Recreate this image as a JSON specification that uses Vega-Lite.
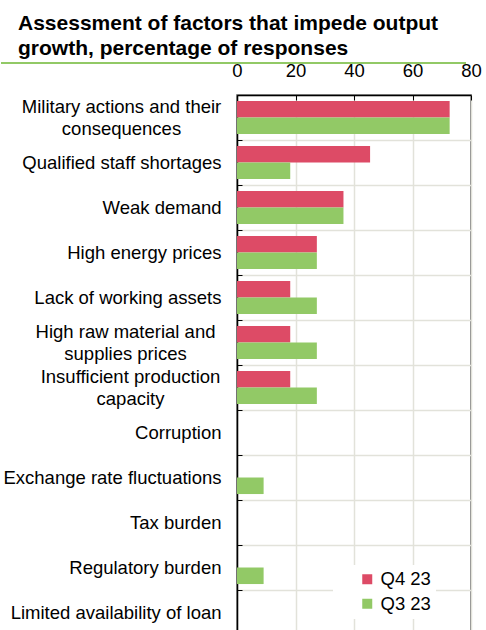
{
  "$schema": "https://vega.github.io/schema/vega-lite/v6.json",
  "width": 234,
  "height": 540,
  "autosize": {"type": "none"},
  "padding": {"left": 237, "top": 95, "right": 15, "bottom": 0},
  "background": "white",
  "title": {
    "text": ["Assessment of factors that impede output", "growth, percentage of responses"],
    "anchor": "start",
    "frame": "group",
    "dx": -219,
    "dy": 2,
    "fontSize": 21,
    "fontWeight": "bold",
    "lineHeight": 25,
    "color": "#000000",
    "font": "Liberation Sans"
  },
  "config": {
    "font": "Liberation Sans",
    "view": {"stroke": "#595959", "strokeWidth": 1.5}
  },
  "data": {
    "values": [
      {"factor": "Military actions and their consequences", "period": "Q4 23", "value": 72.7},
      {"factor": "Military actions and their consequences", "period": "Q3 23", "value": 72.7},
      {"factor": "Qualified staff shortages", "period": "Q4 23", "value": 45.5},
      {"factor": "Qualified staff shortages", "period": "Q3 23", "value": 18.2},
      {"factor": "Weak demand", "period": "Q4 23", "value": 36.4},
      {"factor": "Weak demand", "period": "Q3 23", "value": 36.4},
      {"factor": "High energy prices", "period": "Q4 23", "value": 27.3},
      {"factor": "High energy prices", "period": "Q3 23", "value": 27.3},
      {"factor": "Lack of working assets", "period": "Q4 23", "value": 18.2},
      {"factor": "Lack of working assets", "period": "Q3 23", "value": 27.3},
      {"factor": "High raw material and supplies prices", "period": "Q4 23", "value": 18.2},
      {"factor": "High raw material and supplies prices", "period": "Q3 23", "value": 27.3},
      {"factor": "Insufficient production capacity", "period": "Q4 23", "value": 18.2},
      {"factor": "Insufficient production capacity", "period": "Q3 23", "value": 27.3},
      {"factor": "Corruption", "period": "Q4 23", "value": 0},
      {"factor": "Corruption", "period": "Q3 23", "value": 0},
      {"factor": "Exchange rate fluctuations", "period": "Q4 23", "value": 0},
      {"factor": "Exchange rate fluctuations", "period": "Q3 23", "value": 9.1},
      {"factor": "Tax burden", "period": "Q4 23", "value": 0},
      {"factor": "Tax burden", "period": "Q3 23", "value": 0},
      {"factor": "Regulatory burden", "period": "Q4 23", "value": 0},
      {"factor": "Regulatory burden", "period": "Q3 23", "value": 9.1},
      {"factor": "Limited availability of loan", "period": "Q4 23", "value": 0},
      {"factor": "Limited availability of loan", "period": "Q3 23", "value": 0}
    ]
  },
  "layer": [
    {
      "mark": {"type": "bar"},
      "encoding": {
        "y": {
          "field": "factor",
          "type": "nominal",
          "sort": null,
          "title": null,
          "scale": {"paddingInner": 0, "paddingOuter": 0},
          "axis": {
            "domainColor": "#000000",
            "domainWidth": 1.5,
            "tickBand": "extent",
            "ticks": true,
            "tickSize": -5,
            "tickColor": "#000000",
            "grid": true,
            "gridColor": "#e2e2da",
            "gridWidth": 1.5,
            "labelFontSize": 18.5,
            "labelColor": "#000000",
            "labelLimit": 300,
            "labelLineHeight": 22,
            "labelPadding": {
              "condition": [
                {"test": "datum.value == 'Military actions and their consequences'", "value": 121},
                {"test": "datum.value == 'High raw material and supplies prices'", "value": 117},
                {"test": "datum.value == 'Insufficient production capacity'", "value": 112}
              ],
              "value": 21
            },
            "labelOffset": {
              "condition": {"test": "datum.value == 'Military actions and their consequences' || datum.value == 'High raw material and supplies prices' || datum.value == 'Insufficient production capacity'", "value": -11},
              "value": 0
            },
            "labelAlign": {
              "condition": {"test": "datum.value == 'Military actions and their consequences' || datum.value == 'High raw material and supplies prices' || datum.value == 'Insufficient production capacity'", "value": "center"},
              "value": "right"
            },
            "labelExpr": "datum.value == 'Military actions and their consequences' ? ['Military actions and their', 'consequences'] : datum.value == 'High raw material and supplies prices' ? ['High raw material and', 'supplies prices'] : datum.value == 'Insufficient production capacity' ? ['Insufficient production', 'capacity'] : datum.value == 'Weak demand' ? 'Weak demand\u00a0' : datum.value == 'High energy prices' ? 'High energy prices\u00a0\u00a0' : datum.label"
          }
        },
        "x": {
          "field": "value",
          "type": "quantitative",
          "title": null,
          "scale": {"domain": [0, 80], "nice": false},
          "axis": {
            "orient": "top",
            "values": [0, 20, 40, 60, 80],
            "domainColor": "#000000",
            "domainWidth": 1.5,
            "tickColor": "#000000",
            "tickSize": -5,
            "grid": true,
            "gridColor": "#e2e2da",
            "gridWidth": 1.5,
            "labelFontSize": 18.5,
            "labelColor": "#000000",
            "labelPadding": 20,
            "labelFlush": false
          }
        },
        "yOffset": {
          "field": "period",
          "type": "nominal",
          "sort": ["Q4 23", "Q3 23"],
          "scale": {"paddingInner": 0, "paddingOuter": 0.36}
        },
        "color": {
          "field": "period",
          "type": "nominal",
          "sort": ["Q4 23", "Q3 23"],
          "scale": {"domain": ["Q4 23", "Q3 23"], "range": ["#dd4b66", "#92c966"]},
          "legend": {
            "title": null,
            "orient": "none",
            "legendX": 96,
            "legendY": 470,
            "fillColor": "#ffffff",
            "padding": 5,
            "symbolOffset": 20,
            "symbolType": "square",
            "symbolSize": 100,
            "symbolStrokeWidth": 0,
            "labelFontSize": 18.5,
            "labelColor": "#000000",
            "rowPadding": 5.5,
            "labelOffset": 4
          }
        }
      }
    },
    {
      "mark": {"type": "rule", "color": "#92c966", "strokeWidth": 2},
      "encoding": {
        "x": {"datum": -80.5, "type": "quantitative"},
        "x2": {"datum": 78},
        "y": {"value": -32}
      }
    }
  ]
}
